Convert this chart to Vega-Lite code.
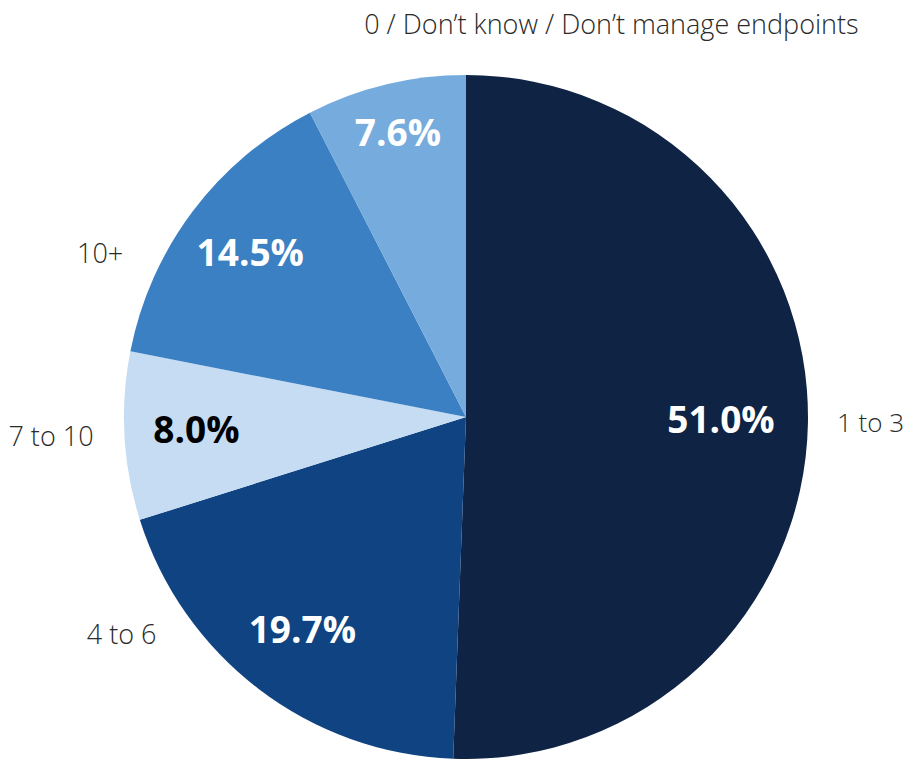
{
  "$schema": "https://vega.github.io/schema/vega-lite/v6.json",
  "width": 684,
  "height": 684,
  "autosize": {"type": "none"},
  "padding": {"left": 124, "top": 75, "right": 101, "bottom": 0},
  "background": "white",
  "config": {"view": {"stroke": null}, "font": "Open Sans"},
  "data": {
    "values": [
      {"cat": "1 to 3", "value": 51.0, "label": "51.0%", "order": 1},
      {"cat": "4 to 6", "value": 19.7, "label": "19.7%", "order": 2},
      {"cat": "7 to 10", "value": 8.0, "label": "8.0%", "order": 3},
      {"cat": "10+", "value": 14.5, "label": "14.5%", "order": 4},
      {"cat": "0 / Don’t know / Don’t manage endpoints", "value": 7.6, "label": "7.6%", "order": 5}
    ]
  },
  "encoding": {
    "theta": {"field": "value", "type": "quantitative", "stack": true},
    "order": {"field": "order", "type": "quantitative"}
  },
  "layer": [
    {
      "mark": {"type": "arc", "outerRadius": 342},
      "encoding": {
        "color": {
          "field": "cat",
          "type": "nominal",
          "legend": null,
          "scale": {
            "domain": ["1 to 3", "4 to 6", "7 to 10", "10+", "0 / Don’t know / Don’t manage endpoints"],
            "range": ["#0f2444", "#0f4382", "#c5dcf3", "#3b80c3", "#76abdd"]
          }
        }
      }
    },
    {
      "mark": {"type": "text", "radius": 270, "fontSize": 37, "fontWeight": "bold", "align": "center", "baseline": "middle"},
      "encoding": {
        "text": {"condition": {"test": "datum.order >= 2 && datum.order <= 4", "field": "label"}, "value": ""},
        "color": {"condition": {"test": "datum.cat === '7 to 10'", "value": "#000000"}, "value": "#ffffff"}
      }
    },
    {
      "mark": {"type": "text", "radius": 255, "fontSize": 37, "fontWeight": "bold", "align": "center", "baseline": "middle", "color": "#ffffff"},
      "encoding": {
        "text": {"condition": {"test": "datum.order === 1", "field": "label"}, "value": ""}
      }
    },
    {
      "mark": {"type": "text", "radius": 290, "fontSize": 37, "fontWeight": "bold", "align": "center", "baseline": "middle", "color": "#ffffff"},
      "encoding": {
        "text": {"condition": {"test": "datum.order === 5", "field": "label"}, "value": ""}
      }
    },
    {
      "mark": {"type": "text", "radius": 371, "fontSize": 26, "fontWeight": 300, "align": "left", "baseline": "middle", "color": "#2a2a2a"},
      "encoding": {
        "text": {"condition": {"test": "datum.cat === '1 to 3'", "field": "cat"}, "value": ""}
      }
    },
    {
      "mark": {"type": "text", "radius": 404, "thetaOffset": -0.018, "fontSize": 27, "fontWeight": 300, "align": "left", "baseline": "middle", "color": "#2a2a2a"},
      "encoding": {
        "text": {"condition": {"test": "datum.order === 5", "field": "cat"}, "value": ""}
      }
    },
    {
      "mark": {"type": "text", "radius": 379, "thetaOffset": 0.304, "fontSize": 27, "fontWeight": 300, "align": "right", "baseline": "middle", "color": "#2a2a2a"},
      "encoding": {
        "text": {"condition": {"test": "datum.cat === '4 to 6'", "field": "cat"}, "value": ""}
      }
    },
    {
      "mark": {"type": "text", "radius": 373, "fontSize": 27, "fontWeight": 300, "align": "right", "baseline": "middle", "color": "#2a2a2a"},
      "encoding": {
        "text": {"condition": {"test": "datum.cat === '7 to 10'", "field": "cat"}, "value": ""}
      }
    },
    {
      "mark": {"type": "text", "radius": 379, "thetaOffset": -0.204, "fontSize": 27, "fontWeight": 300, "align": "right", "baseline": "middle", "color": "#2a2a2a"},
      "encoding": {
        "text": {"condition": {"test": "datum.cat === '10+'", "field": "cat"}, "value": ""}
      }
    }
  ]
}
